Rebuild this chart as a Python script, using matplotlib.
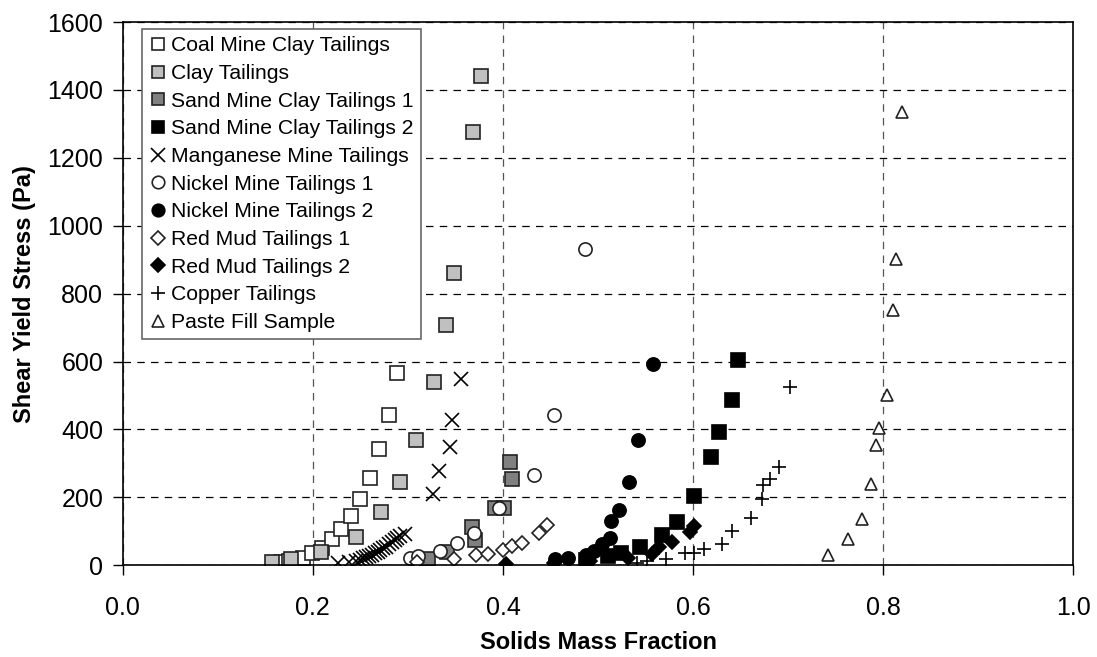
import matplotlib
matplotlib.use('Agg')
import matplotlib.pyplot as plt

plt.rcParams['font.family'] = ['Liberation Sans', 'DejaVu Sans']

# solids mass fraction / shear yield stress (Pa)
coal_x = [0.158, 0.166, 0.175, 0.180, 0.190, 0.199, 0.210, 0.220, 0.230, 0.240, 0.250, 0.260, 0.270, 0.280, 0.289]
coal_y = [8, 10, 14, 12, 22, 35, 52, 77, 106, 145, 194, 258, 342, 443, 567]

clay_x = [0.157, 0.177, 0.209, 0.245, 0.272, 0.292, 0.308, 0.327, 0.340, 0.349, 0.368, 0.377]
clay_y = [10, 18, 40, 84, 158, 246, 368, 541, 708, 862, 1276, 1440]

sand1_x = [0.321, 0.341, 0.367, 0.371, 0.392, 0.401, 0.407, 0.409]
sand1_y = [18, 40, 112, 75, 170, 170, 303, 253]

sand2_x = [0.487, 0.511, 0.524, 0.544, 0.567, 0.583, 0.601, 0.619, 0.627, 0.641, 0.647]
sand2_y = [17, 27, 37, 55, 90, 127, 204, 320, 392, 487, 605]

mang_x = [0.226, 0.238, 0.245, 0.250, 0.253, 0.256, 0.259, 0.262, 0.265, 0.268, 0.271, 0.274,
          0.277, 0.280, 0.283, 0.286, 0.289, 0.292, 0.297, 0.326, 0.333, 0.344, 0.346, 0.356]
mang_y = [8, 10, 14, 17, 20, 23, 27, 30, 35, 40, 45, 50,
          55, 62, 68, 75, 80, 86, 92, 210, 279, 349, 428, 548]

nick1_x = [0.302, 0.311, 0.334, 0.352, 0.370, 0.396, 0.433, 0.454, 0.486]
nick1_y = [21, 26, 43, 67, 94, 168, 267, 442, 931]

nick2_x = [0.455, 0.468, 0.487, 0.496, 0.504, 0.513, 0.514, 0.522, 0.533, 0.542, 0.558]
nick2_y = [18, 21, 31, 42, 62, 79, 130, 162, 246, 369, 592]

red1_x = [0.310, 0.348, 0.372, 0.384, 0.400, 0.410, 0.420, 0.438, 0.446]
red1_y = [9, 18, 29, 33, 45, 57, 67, 96, 119]

red2_x = [0.403, 0.454, 0.492, 0.532, 0.557, 0.564, 0.578, 0.597, 0.601]
red2_y = [4, 8, 13, 21, 34, 55, 70, 99, 116]

copper_x = [0.541, 0.551, 0.571, 0.592, 0.601, 0.611, 0.630, 0.641, 0.661, 0.672, 0.674, 0.681, 0.690, 0.702]
copper_y = [8, 13, 18, 36, 36, 49, 64, 101, 138, 195, 235, 255, 290, 526]

paste_x = [0.742, 0.763, 0.778, 0.787, 0.792, 0.796, 0.804, 0.810, 0.813, 0.820]
paste_y = [30, 77, 135, 240, 354, 405, 502, 752, 902, 1336]

series = [
    ('Coal Mine Clay Tailings', coal_x, coal_y, 's', 'white', '#222222'),
    ('Clay Tailings', clay_x, clay_y, 's', '#c0c0c0', '#222222'),
    ('Sand Mine Clay Tailings 1', sand1_x, sand1_y, 's', '#808080', '#222222'),
    ('Sand Mine Clay Tailings 2', sand2_x, sand2_y, 's', 'black', 'black'),
    ('Manganese Mine Tailings', mang_x, mang_y, 'x', 'none', 'black'),
    ('Nickel Mine Tailings 1', nick1_x, nick1_y, 'o', 'white', '#222222'),
    ('Nickel Mine Tailings 2', nick2_x, nick2_y, 'o', 'black', 'black'),
    ('Red Mud Tailings 1', red1_x, red1_y, 'D', 'white', '#222222'),
    ('Red Mud Tailings 2', red2_x, red2_y, 'D', 'black', 'black'),
    ('Copper Tailings', copper_x, copper_y, '+', 'none', 'black'),
    ('Paste Fill Sample', paste_x, paste_y, '^', 'white', '#222222'),
]

fig = plt.figure(figsize=(10.97, 6.57), dpi=100)
ax = fig.add_axes([0.1119, 0.1396, 0.8665, 0.8269])

for name, xs, ys, mk, fc, ec in series:
    size = 9.5
    if mk == 'D':
        size = 7
    elif mk in ('x', '+'):
        size = 10.5
    elif mk == '^':
        size = 9
    ax.plot(xs, ys, linestyle='none', marker=mk, markersize=size,
            markerfacecolor=fc, markeredgecolor=ec, markeredgewidth=1.2,
            label=name)

ax.set_xlim(0, 1.0)
ax.set_ylim(0, 1600)
ax.set_xticks([0.0, 0.2, 0.4, 0.6, 0.8, 1.0])
ax.set_xticklabels(['0.0', '0.2', '0.4', '0.6', '0.8', '1.0'])
ax.set_yticks(range(0, 1601, 200))
ax.tick_params(labelsize=18, direction='out', length=7, width=1, colors='black')
ax.tick_params(axis='x', pad=15)
ax.tick_params(axis='y', pad=7)
ax.yaxis.grid(True, color='black', linestyle=(0, (6, 5)), linewidth=0.9)
ax.xaxis.grid(True, color='#555555', linestyle=(0, (6, 5)), linewidth=0.9)
ax.set_axisbelow(True)
for sp in ax.spines.values():
    sp.set_color('black')
    sp.set_linewidth(1.2)

ax.set_xlabel('Solids Mass Fraction', fontsize=17, fontweight='bold', labelpad=8)
ax.set_ylabel('Shear Yield Stress (Pa)', fontsize=17, fontweight='bold', labelpad=8)

leg = ax.legend(loc='upper left', bbox_to_anchor=(0.02, 0.987), borderaxespad=0,
                fontsize=15.2, markerscale=0.95, handlelength=0.8, handletextpad=0.25,
                labelspacing=0.41, borderpad=0.35, fancybox=False, framealpha=1,
                edgecolor='#666666')
leg.get_frame().set_linewidth(1.2)

fig.savefig('out.png', dpi=100)
